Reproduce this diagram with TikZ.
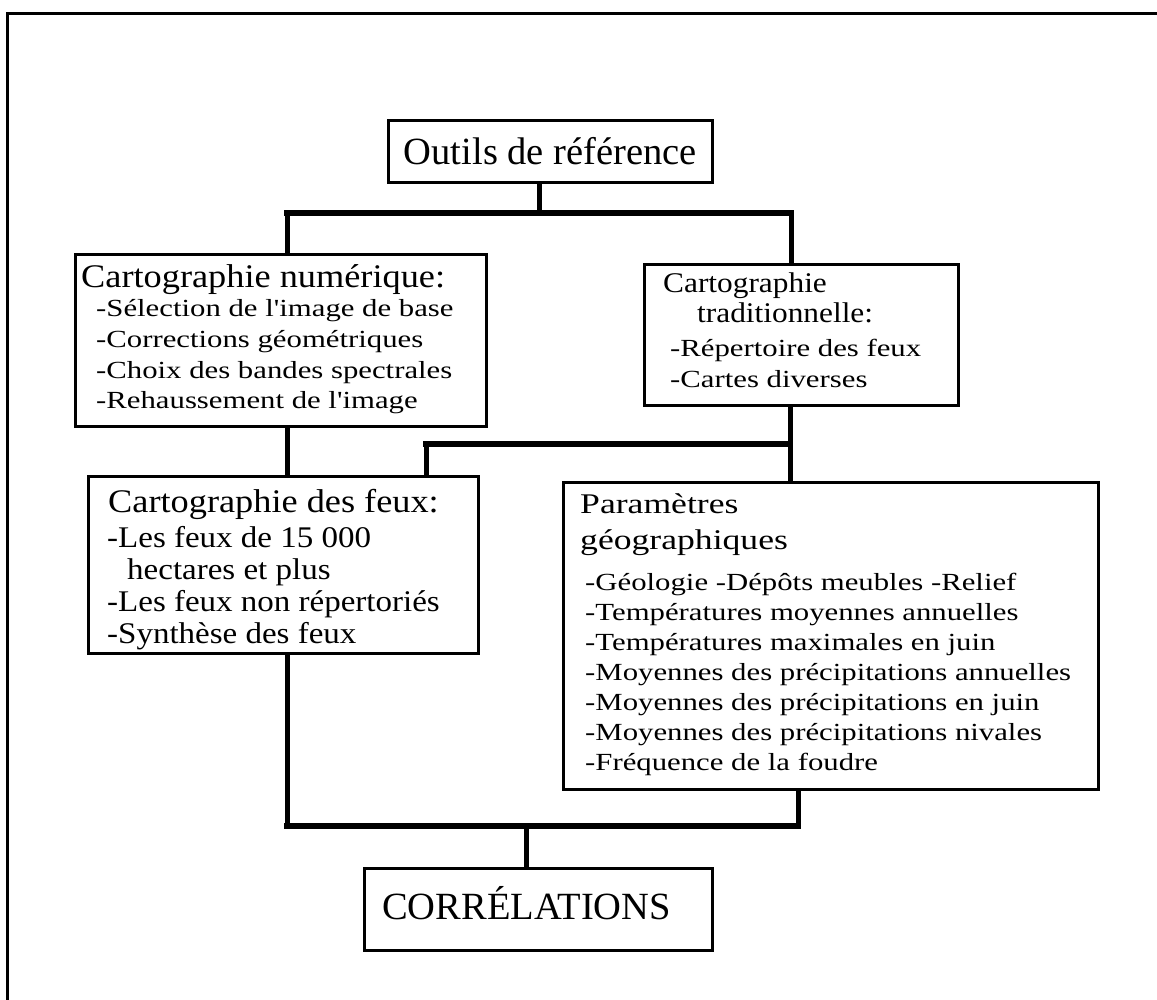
\documentclass[tikz,border=0pt]{standalone}
\usepackage{fontspec}
\setmainfont{Liberation Serif}
\newfontfamily\headfont[FakeStretch=1.1]{Liberation Serif}
\newfontfamily\widefont[FakeStretch=1.25]{Liberation Serif}
\usetikzlibrary{positioning,calc}
\newcommand{\titletxt}{\fontsize{38.5}{46}\selectfont}
\newcommand{\headtxt}{\headfont\fontsize{33}{40}\selectfont}
\newcommand{\subtxt}{\headfont\fontsize{28.5}{34}\selectfont}
\newcommand{\itemtxt}{\headfont\fontsize{30}{36}\selectfont}
\newcommand{\bodytxt}{\widefont\fontsize{24.6}{29}\selectfont}
\newcommand{\paramtxt}{\widefont\fontsize{28.5}{34}\selectfont}

\begin{document}
\begin{tikzpicture}[x=1pt,y=-1pt,
    box/.style={draw,line width=2.7pt,inner sep=0pt,anchor=north west},
    ln/.style={anchor=base west,inner sep=0pt},
    link/.style={line width=5pt},
    bar/.style={line width=6.5pt,line cap=rect}]
    \useasboundingbox (0,0) rectangle (1157,1000);
    % frame
    \draw[line width=3pt] (7,1000) -- (7,14) -- (1157,14);

    % boxes
    \node[box,minimum width=324pt,minimum height=62pt,font=\titletxt] (outils) at (387,119) {Outils de référence};
    \node[box,minimum width=411pt,minimum height=172pt] (num) at (74,253) {};
    \node[box,minimum width=314pt,minimum height=141pt] (trad) at (643,263) {};
    \node[box,minimum width=390pt,minimum height=177pt] (feux) at (87,475) {};
    \node[box,minimum width=535pt,minimum height=307pt] (param) at (562,481) {};
    \node[box,minimum width=348pt,minimum height=82pt] (corr) at (363,867) {};

    % texts
    \node[ln,font=\headtxt] (numT) at (81,288) {Cartographie numérique:};
    \foreach \y/\lbl [count=\i] in {
      317/{-Sélection de l'image de base},
      348/{-Corrections géométriques},
      378/{-Choix des bandes spectrales},
      408/{-Rehaussement de l'image}}{
      \node[ln,font=\bodytxt] (num\i) at (96,\y) {\lbl};
    }
    \node[ln,font=\subtxt] (tradT) at (663,293) {Cartographie};
    \node[ln,font=\subtxt] (tradU) at (697,323) {traditionnelle:};
    \node[ln,font=\bodytxt] (trad1) at (670,357) {-Répertoire des feux};
    \node[ln,font=\bodytxt] (trad2) at (670,388) {-Cartes diverses};

    \node[ln,font=\headtxt] (feuxT) at (108,512) {Cartographie des feux:};
    \foreach \x/\y/\lbl [count=\i] in {
      107/547/{-Les feux de 15 000},
      127/579/{hectares et plus},
      107/611/{-Les feux non répertoriés},
      107/643/{-Synthèse des feux}}{
      \node[ln,font=\itemtxt] (feux\i) at (\x,\y) {\lbl};
    }

    \node[ln,font=\paramtxt] (paramT) at (580,513) {Paramètres};
    \node[ln,font=\paramtxt] (paramU) at (580,549) {géographiques};
    \foreach \y/\lbl [count=\i] in {
      590/{-Géologie -Dépôts meubles -Relief},
      620/{-Températures moyennes annuelles},
      650/{-Températures maximales en juin},
      680/{-Moyennes des précipitations annuelles},
      710/{-Moyennes des précipitations en juin},
      740/{-Moyennes des précipitations nivales},
      770/{-Fréquence de la foudre}}{
      \node[ln,font=\bodytxt] (param\i) at (585,\y) {\lbl};
    }
    \node[ln,font=\titletxt] (corrT) at (382,919) {CORRÉLATIONS};

    % junctions
    \coordinate (barT) at (539,213);
    \coordinate (jL) at (287,213);
    \coordinate (jR) at (791,213);
    \coordinate (jB) at (426,444);
    \coordinate (jC) at (790,444);
    \coordinate (kL) at (287,826);
    \coordinate (kR) at (798,826);
    \coordinate (kM) at (526,826);

    % connectors
    \draw[link] (outils.south -| barT) -- (barT);
    \draw[link] (num.north -| jL) -- (jL);
    \draw[link] (trad.north -| jR) -- (jR);
    \draw[bar] (jL) -- (jR);
    \draw[link] (num.south -| jL) -- (feux.north -| jL);
    \draw[link] (trad.south -| jC) -- (param.north -| jC);
    \draw[link] (jB) -- (feux.north -| jB);
    \draw[bar] (jB) -- (jC);
    \draw[link] (feux.south -| kL) -- (kL);
    \draw[link] (param.south -| kR) -- (kR);
    \draw[bar] (kL) -- (kR);
    \draw[link] (kM) -- (corr.north -| kM);
\end{tikzpicture}
\end{document}
